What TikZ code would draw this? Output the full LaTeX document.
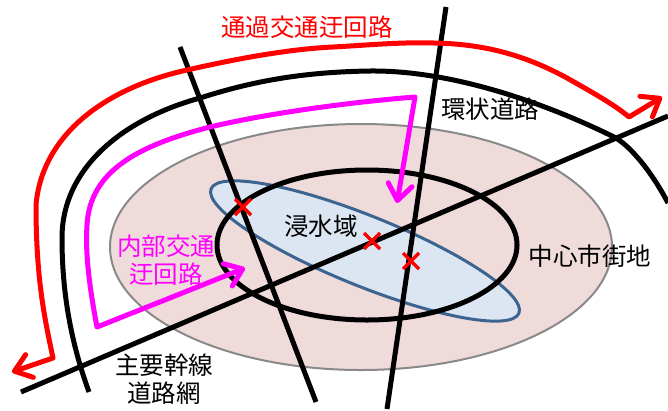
\documentclass[tikz,border=0pt]{standalone}
\usepackage{fontspec}
\setmainfont{Noto Sans CJK JP}
\usetikzlibrary{arrows.meta}
\definecolor{areapink}{HTML}{F0DBDB}
\definecolor{areablue}{HTML}{DCE6F2}
\definecolor{lineblue}{HTML}{3B6491}
\definecolor{linegray}{HTML}{898989}
\definecolor{routemagenta}{HTML}{FF00FF}
\tikzset{
  road/.style={line width=5pt, black},
  detour/.style={line width=5pt, line join=round,
    {Straight Barb[length=16pt, width=24pt, round]}-{Straight Barb[length=16pt, width=24pt, round]}},
  blocked/.style={line width=3.5pt, red},
  label/.style={font=\fontsize{24.5}{27.5}\selectfont, align=center, inner sep=0pt},
}
\begin{document}
\begin{tikzpicture}[x=1pt, y=-1pt]
  \useasboundingbox (0,0) rectangle (668,410);

  % Define the areas and the ring roads
  \def\cityArea{(361,247) ellipse (251 and 123)}
  \def\floodArea{(365,251) ellipse (166 and 35)}
  \def\innerRing{(367,245) ellipse (150 and 75)}

  % Fill the areas
  \draw[line width=2pt, linegray, fill=areapink] \cityArea;
  \draw[line width=3pt, lineblue, fill=areablue, rotate around={-22:(365,251)}] \floodArea;

  % Roads
  \draw[road] \innerRing;
  \draw[road] (180,47) -- (316,402);
  \draw[road] (446,7) -- (387,409);
  \draw[road] (21,392) -- (668,116);
  \draw[road] (89,392) .. controls (70,340) and (62,290) .. (62,238)
    .. controls (62,170) and (120,120) .. (200,98)
    .. controls (250,82) and (300,72) .. (370,71)
    .. controls (460,70) and (560,110) .. (616,138)
    .. controls (635,150) and (655,178) .. (668,203);

  % Detours with their arrows
  \draw[detour, red] (12,372) -- (53,358)
    .. controls (45,320) and (36,280) .. (36,205)
    .. controls (42,135) and (105,88) .. (187,70)
    .. controls (240,58) and (290,49) .. (333,47)
    .. controls (370,45) and (400,42) .. (434,43)
    .. controls (490,44) and (530,58) .. (567,78)
    .. controls (590,91) and (615,105) .. (629,117) -- (662,97);
  \draw[detour, routemagenta] (245,268) -- (97,327)
    .. controls (90,290) and (85,255) .. (87,225)
    .. controls (90,170) and (140,145) .. (210,127)
    .. controls (260,115) and (340,103) .. (415,97) -- (397,203);

  % Blocked points
  \draw[blocked] (235,199) -- (251,215) (251,199) -- (235,215);
  \draw[blocked] (364,233) -- (380,249) (380,233) -- (364,249);
  \draw[blocked] (403,253) -- (419,269) (419,253) -- (403,269);

  % Labels
  \node[label, text=red] (outerLabel) at (307,27) {通過交通迂回路};
  \node[label] (ringLabel) at (490,109) {環状道路};
  \node[label] (floodLabel) at (321,226) {浸水域};
  \node[label] (cityLabel) at (590,256) {中心市街地};
  \node[label, text=routemagenta] (innerLabel) at (166,260) {内部交通\\迂回路};
  \node[label] (trunkLabel) at (164,379) {主要幹線\\道路網};
\end{tikzpicture}
\end{document}
